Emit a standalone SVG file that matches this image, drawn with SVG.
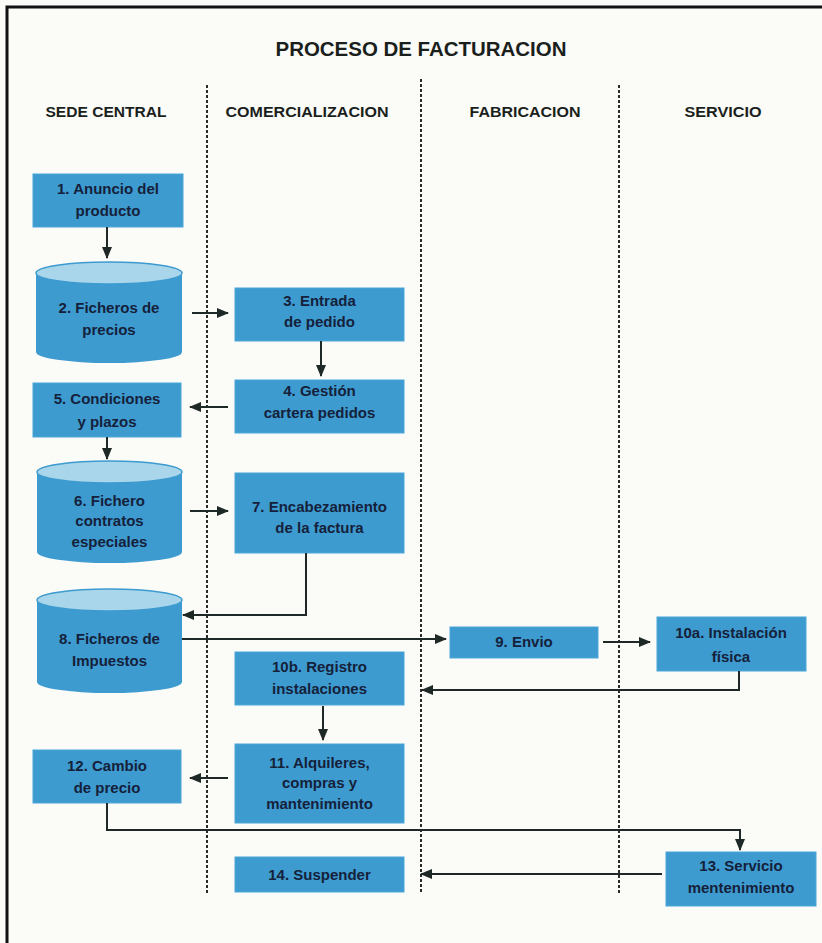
<svg xmlns="http://www.w3.org/2000/svg" width="822" height="943" viewBox="0 0 822 943">
<style>
.bg{fill:#fbfbf8}
.frame{stroke:#111;stroke-width:3;fill:none}
.title{font-family:"Liberation Sans",Arial,sans-serif;font-weight:bold;font-size:20px;fill:#1a1f1c;text-anchor:middle}
.hdr{font-family:"Liberation Sans",Arial,sans-serif;font-weight:bold;font-size:14.5px;fill:#1a1f1c;text-anchor:middle}
.div{stroke:#2a2a2a;stroke-width:2;stroke-dasharray:3 2;fill:none}
.box{fill:#3d9bd0;stroke:#4aa6d8;stroke-width:1}
.cyl{fill:#3d9bd0}
.cyltop{fill:#a9d6ea;stroke:#3d9bd0;stroke-width:1.5}
.lbl{font-family:"Liberation Sans",Arial,sans-serif;font-weight:bold;font-size:15px;fill:#15213a;text-anchor:middle}
.con{stroke:#1e2826;stroke-width:2;fill:none;marker-end:url(#ah)}
</style>
<defs>
<marker id="ah" markerUnits="userSpaceOnUse" markerWidth="12" markerHeight="10" refX="11" refY="5" orient="auto">
<path d="M0,0 L12,5 L0,10 z" fill="#1e2826"/>
</marker>
</defs>
<rect class="bg" x="0" y="0" width="822" height="943"/>
<path class="frame" d="M7,943 V7 H822"/>
<text class="title" x="421" y="56" textLength="291" lengthAdjust="spacingAndGlyphs">PROCESO DE FACTURACION</text>
<g id="headers">
<text class="hdr" x="106" y="117" textLength="121" lengthAdjust="spacingAndGlyphs">SEDE CENTRAL</text>
<text class="hdr" x="307" y="117" textLength="163" lengthAdjust="spacingAndGlyphs">COMERCIALIZACION</text>
<text class="hdr" x="525" y="117" textLength="111" lengthAdjust="spacingAndGlyphs">FABRICACION</text>
<text class="hdr" x="723" y="117" textLength="77" lengthAdjust="spacingAndGlyphs">SERVICIO</text>
</g>
<g id="dividers">
<line class="div" x1="207" y1="85" x2="207" y2="893"/>
<line class="div" x1="421" y1="79" x2="421" y2="893"/>
<line class="div" x1="619" y1="85" x2="619" y2="893"/>
</g>
<g id="n1"><rect class="box" x="33" y="174" width="150" height="53"/>
<text class="lbl" x="108" y="194">1. Anuncio del</text><text class="lbl" x="108" y="216">producto</text></g>
<g id="n2"><path class="cyl" d="M36,273 V352 A73,11 0 0 0 182,352 V273 z"/><ellipse class="cyltop" cx="109" cy="273" rx="73" ry="11"/>
<text class="lbl" x="109" y="313">2. Ficheros de</text><text class="lbl" x="109" y="335">precios</text></g>
<g id="n3"><rect class="box" x="235" y="288" width="169" height="53"/>
<text class="lbl" x="319.5" y="306">3. Entrada</text><text class="lbl" x="319.5" y="327">de pedido</text></g>
<g id="n4"><rect class="box" x="235" y="380" width="169" height="53"/>
<text class="lbl" x="319.5" y="396">4. Gestión</text><text class="lbl" x="319.5" y="418">cartera pedidos</text></g>
<g id="n5"><rect class="box" x="33" y="383" width="148" height="54"/>
<text class="lbl" x="107" y="404">5. Condiciones</text><text class="lbl" x="107" y="427">y plazos</text></g>
<g id="n6"><path class="cyl" d="M37,472 V552 A72.5,11 0 0 0 182,552 V472 z"/><ellipse class="cyltop" cx="109.5" cy="472" rx="72.5" ry="11"/>
<text class="lbl" x="109.5" y="506">6. Fichero</text><text class="lbl" x="109.5" y="526">contratos</text><text class="lbl" x="109.5" y="547">especiales</text></g>
<g id="n7"><rect class="box" x="235" y="473" width="169" height="80"/>
<text class="lbl" x="319.5" y="512">7. Encabezamiento</text><text class="lbl" x="319.5" y="533">de la factura</text></g>
<g id="n8"><path class="cyl" d="M37,600 V682 A72.5,11 0 0 0 182,682 V600 z"/><ellipse class="cyltop" cx="109.5" cy="600" rx="72.5" ry="11"/>
<text class="lbl" x="109.5" y="644">8. Ficheros de</text><text class="lbl" x="109.5" y="666">Impuestos</text></g>
<g id="n9"><rect class="box" x="450" y="627" width="148" height="31"/>
<text class="lbl" x="524" y="647">9. Envio</text></g>
<g id="n10a"><rect class="box" x="657" y="617" width="149" height="54"/>
<text class="lbl" x="731" y="638">10a. Instalación</text><text class="lbl" x="731" y="662">física</text></g>
<g id="n10b"><rect class="box" x="235" y="652" width="169" height="53"/>
<text class="lbl" x="319.5" y="672">10b. Registro</text><text class="lbl" x="319.5" y="694">instalaciones</text></g>
<g id="n11"><rect class="box" x="235" y="744" width="169" height="79"/>
<text class="lbl" x="319.5" y="768">11. Alquileres,</text><text class="lbl" x="319.5" y="788">compras y</text><text class="lbl" x="319.5" y="809">mantenimiento</text></g>
<g id="n12"><rect class="box" x="33" y="750" width="148" height="53"/>
<text class="lbl" x="107" y="771">12. Cambio</text><text class="lbl" x="107" y="793">de precio</text></g>
<g id="n13"><rect class="box" x="666" y="852" width="150" height="54"/>
<text class="lbl" x="741" y="871">13. Servicio</text><text class="lbl" x="741" y="893">mentenimiento</text></g>
<g id="n14"><rect class="box" x="235" y="857" width="169" height="35"/>
<text class="lbl" x="319.5" y="880">14. Suspender</text></g>
<g id="connectors">
<path class="con" d="M107,227 V258"/>
<path class="con" d="M192,313 H228"/>
<path class="con" d="M321,341 V376"/>
<path class="con" d="M228,407 H190"/>
<path class="con" d="M107,437 V459"/>
<path class="con" d="M190,511 H228"/>
<path class="con" d="M306,553 V615 H183"/>
<path class="con" d="M182,639 H446"/>
<path class="con" d="M603,642 H650"/>
<path class="con" d="M739,671 V690 H422"/>
<path class="con" d="M323,706 V740"/>
<path class="con" d="M228,778 H190"/>
<path class="con" d="M107,803 V830 H740 V850"/>
<path class="con" d="M662,874 H421"/>
</g>
</svg>
